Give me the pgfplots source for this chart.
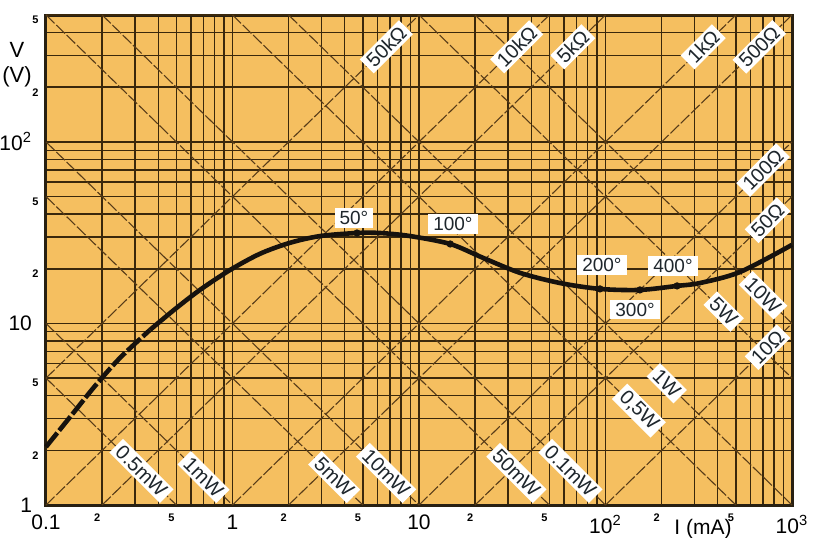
\documentclass[border=0pt]{standalone}
\usepackage{pgfplots}
\pgfplotsset{compat=1.18}
\usepackage{fontspec}
\setmainfont{Liberation Sans}
\definecolor{bg}{RGB}{245,191,96}
\definecolor{gridc}{RGB}{58,40,12}
\definecolor{diag}{RGB}{88,60,24}
\definecolor{frame}{RGB}{40,32,18}
\definecolor{curvec}{RGB}{22,18,14}
\definecolor{lbl}{RGB}{30,38,44}
\begin{document}
\begin{tikzpicture}[
  rlab/.style={fill=white, text=lbl, font=\fontsize{10}{10}\selectfont, inner xsep=2pt, inner ysep=1.3pt, rotate=45},
  plab/.style={fill=white, text=lbl, font=\fontsize{10}{10}\selectfont, inner xsep=2pt, inner ysep=1.3pt, rotate=-45},
  tlab/.style={fill=white, text=lbl, font=\fontsize{9.5}{9.5}\selectfont, inner xsep=2.5pt, inner ysep=1.5pt}
]
\begin{axis}[
  at={(0,0)}, anchor=south west,
  scale only axis, width=373pt, height=245pt,
  xmode=log, ymode=log,
  xmin=0.1, xmax=1000, ymin=1, ymax=500,
  axis background/.style={fill=bg},
  axis line style={draw=frame, line width=1.5pt},
  xtick={0.1,1,10,100,1000},
  xticklabels={0.1,1,10,10\textsuperscript{2},10\textsuperscript{3}},
  ytick={1,10,100},
  yticklabels={1,10,10\textsuperscript{2}},
  minor xtick={0.2,0.3,0.4,0.5,0.6,0.7,0.8,0.9,2,3,4,5,6,7,8,9,20,30,40,50,60,70,80,90,200,300,400,500,600,700,800,900},
  minor ytick={2,3,4,5,6,7,8,9,20,30,40,50,60,70,80,90,200,300,400},
  grid=both,
  major grid style={draw=gridc, line width=0.8pt},
  minor grid style={draw=gridc, line width=0.7pt},
  major tick length=0pt, minor tick length=0pt,
  tick label style={font=\fontsize{10.5}{11}\selectfont, text=black},
  xticklabel style={yshift=-1.5pt},
  yticklabel style={xshift=-3.5pt},
  extra x ticks={0.2,0.5,2,5,20,50,200,500},
  extra x tick labels={2,5,2,5,2,5,2,5},
  extra x tick style={xticklabel style={font=\bfseries\fontsize{5.5}{6}\selectfont, yshift=0.7pt, xshift=-2.5pt}},
  extra y ticks={2,5,20,50,200,500},
  extra y tick labels={2,5,2,5,2,5},
  extra y tick style={yticklabel style={font=\bfseries\fontsize{5.5}{6}\selectfont, xshift=3.3pt, yshift=-2.5pt}},
  clip=false,
]
% resistance lines V = R I
\addplot[diag, line width=0.55pt, dash pattern=on 6pt off 1.2pt] coordinates {(100,1)(1000,10)};
\addplot[diag, line width=0.55pt, dash pattern=on 6pt off 1.2pt] coordinates {(20,1)(1000,50)};
\addplot[diag, line width=0.55pt, dash pattern=on 6pt off 1.2pt] coordinates {(10,1)(1000,100)};
\addplot[diag, line width=0.55pt, dash pattern=on 6pt off 1.2pt] coordinates {(2,1)(1000,500)};
\addplot[diag, line width=0.55pt, dash pattern=on 6pt off 1.2pt] coordinates {(1,1)(500,500)};
\addplot[diag, line width=0.55pt, dash pattern=on 6pt off 1.2pt] coordinates {(0.2,1)(100,500)};
\addplot[diag, line width=0.55pt, dash pattern=on 6pt off 1.2pt] coordinates {(0.1,1)(50,500)};
\addplot[diag, line width=0.55pt, dash pattern=on 6pt off 1.2pt] coordinates {(0.1,5)(10,500)};
% power lines V = P / I
\addplot[diag, line width=0.55pt, dash pattern=on 6pt off 1.2pt] coordinates {(0.1,5)(0.5,1)};
\addplot[diag, line width=0.55pt, dash pattern=on 6pt off 1.2pt] coordinates {(0.1,10)(1,1)};
\addplot[diag, line width=0.55pt, dash pattern=on 6pt off 1.2pt] coordinates {(0.1,50)(5,1)};
\addplot[diag, line width=0.55pt, dash pattern=on 6pt off 1.2pt] coordinates {(0.1,100)(10,1)};
\addplot[diag, line width=0.55pt, dash pattern=on 6pt off 1.2pt] coordinates {(0.1,500)(50,1)};
\addplot[diag, line width=0.55pt, dash pattern=on 6pt off 1.2pt] coordinates {(0.2,500)(100,1)};
\addplot[diag, line width=0.55pt, dash pattern=on 6pt off 1.2pt] coordinates {(1,500)(500,1)};
\addplot[diag, line width=0.55pt, dash pattern=on 6pt off 1.2pt] coordinates {(2,500)(1000,1)};
\addplot[diag, line width=0.55pt, dash pattern=on 6pt off 1.2pt] coordinates {(10,500)(1000,5)};
\addplot[diag, line width=0.55pt, dash pattern=on 6pt off 1.2pt] coordinates {(20,500)(1000,10)};
% resistance labels
\node[rlab] at (axis cs:6.68,334) {50kΩ};
\node[rlab] at (axis cs:33.4,334) {10kΩ};
\node[rlab] at (axis cs:66.8,334) {5kΩ};
\node[rlab] at (axis cs:334,334) {1kΩ};
\node[rlab] at (axis cs:668,334) {500Ω};
\node[rlab] at (axis cs:700,70) {100Ω};
\node[rlab] at (axis cs:740,37) {50Ω};
\node[rlab] at (axis cs:740,7.4) {10Ω};
% power labels
\node[plab] at (axis cs:0.325,1.54) {0.5mW};
\node[plab] at (axis cs:0.70,1.426) {1mW};
\node[plab] at (axis cs:3.51,1.426) {5mW};
\node[plab] at (axis cs:6.67,1.50) {10mW};
\node[plab] at (axis cs:33.3,1.50) {50mW};
\node[plab] at (axis cs:64.9,1.54) {0.1mW};
\node[plab] at (axis cs:151,3.31) {0,5W};
\node[plab] at (axis cs:213,4.69) {1W};
\node[plab] at (axis cs:430,11.63) {5W};
\node[plab] at (axis cs:700,14.3) {10W};
% characteristic curve
\addplot[curvec, line width=2.3pt, dash pattern=on 9pt off 1.5pt, smooth] coordinates {(0.1,2.09)(0.1345,3.05)(0.183,4.52)(0.249,6.45)(0.361,9.21)};
\addplot[curvec, line width=2.3pt, smooth] coordinates {(0.361,9.21)(0.492,12.0)(0.669,15.3)(0.970,19.7)(1.404,24.2)(2.03,27.8)(2.95,30.3)(4.65,31.5)(6.18,31.5)(8.95,30.3)(14.7,27.4)(22.0,23.0)(34.8,19.0)(57.0,16.7)(93.4,15.5)(153,15.3)(242,16.1)(321,16.7)(526,19.2)(1000,27.1)};
\addplot[only marks, mark=*, mark size=1.6pt, curvec] coordinates {(4.65,31.5)(14.7,27.4)(93.4,15.5)(153,15.3)(242,16.1)};
% temperature labels
\node[tlab] at (axis cs:4.48,38.1) {50°};
\node[tlab] at (axis cs:15.2,35.3) {100°};
\node[tlab] at (axis cs:95.7,21.0) {200°};
\node[tlab] at (axis cs:230,20.7) {400°};
\node[tlab] at (axis cs:144,11.9) {300°};
\end{axis}
\node[font=\fontsize{11}{11}\selectfont] at (-14.5pt,227.5pt) {V};
\node[font=\fontsize{11}{11}\selectfont] at (-14.5pt,214pt) {(V)};
\node[font=\fontsize{10.5}{11}\selectfont] at (328.5pt,-12pt) {I (mA)};
\pgfresetboundingbox
\path[use as bounding box] (-23pt,-16pt) rectangle (384.5pt,252.5pt);
\end{tikzpicture}
\end{document}
